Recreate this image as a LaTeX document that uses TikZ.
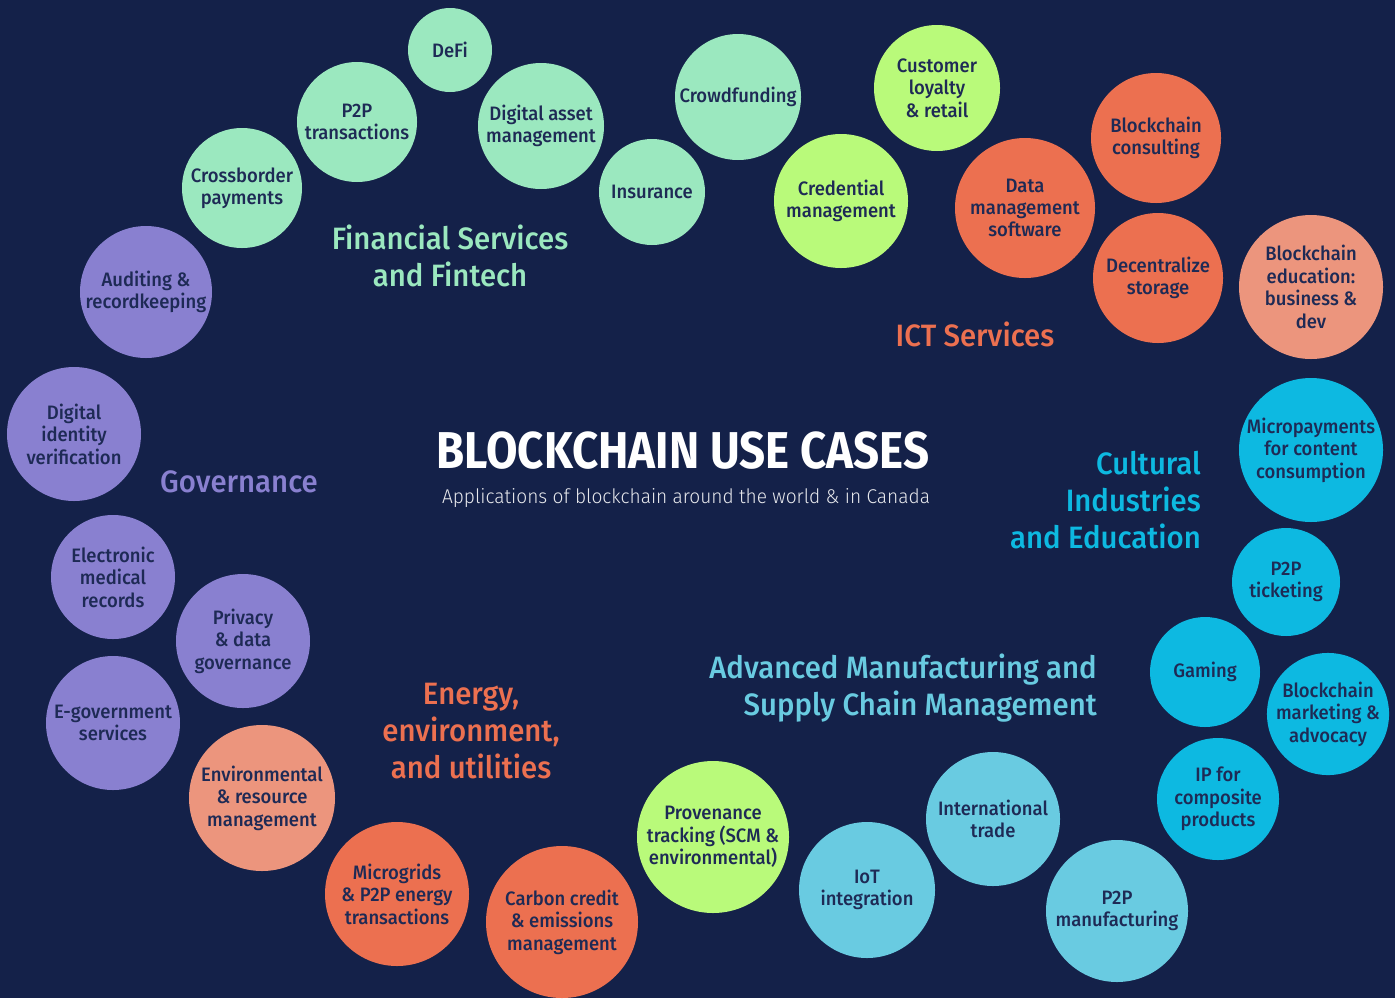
\documentclass[tikz,border=0pt]{standalone}
\usepackage{fontspec}
\setmainfont{Fira Sans}[FakeStretch=0.88]
\newfontfamily\lightfont{Fira Sans Light}[FakeStretch=0.96]
\newfontfamily\bubblefont{Fira Sans Medium}[FakeStretch=0.95]
\newfontfamily\catfont{Fira Sans Medium}[FakeStretch=0.95]
\definecolor{bgnavy}{HTML}{142149}
\definecolor{inknavy}{HTML}{1E2A55}
\definecolor{mint}{HTML}{9BE8BF}
\definecolor{lime}{HTML}{B9FA7A}
\definecolor{coral}{HTML}{EC7050}
\definecolor{salmon}{HTML}{EC957D}
\definecolor{lavender}{HTML}{8980D0}
\definecolor{cyanblue}{HTML}{0DB9E1}
\definecolor{skyblue}{HTML}{69CBE1}
\tikzset{
bubble/.style={circle, fill=#1, inner sep=0pt, align=center, text=inknavy,
  font=\fontsize{19.5}{22.5}\bubblefont},
catlabel/.style={text=#1, inner sep=0pt, font=\fontsize{31}{37.5}\catfont}
}

\begin{document}
\begin{tikzpicture}[x=1bp,y=-1bp]
  \fill[bgnavy] (0,0) rectangle (1395,998);
  \useasboundingbox (0,0) rectangle (1395,998);
  % financial services
  \node[bubble=mint, minimum size=84bp] (defi) at (450,50) {DeFi};
  \node[bubble=mint, minimum size=120bp] (ptwop) at (357,122) {P2P\\transactions};
  \node[bubble=mint, minimum size=120bp] (cross) at (242,188) {Crossborder\\payments};
  \node[bubble=mint, minimum size=126bp] (asset) at (541,126) {Digital asset\\management};
  \node[bubble=mint, minimum size=106bp] (insur) at (652,192) {Insurance};
  \node[bubble=mint, minimum size=126bp] (crowd) at (738,97) {Crowdfunding};
  \node[catlabel=mint, align=center] (fin) at (450,256) {Financial Services\\and Fintech};
  % ict services
  \node[bubble=lime, minimum size=126bp] (loyal) at (937,88) {Customer\\loyalty\\\& retail};
  \node[bubble=lime, minimum size=134bp] (cred) at (841,201) {Credential\\management};
  \node[bubble=coral, minimum size=140bp] (datam) at (1025,208) {Data\\management\\software};
  \node[bubble=coral, minimum size=130bp] (consult) at (1156,138) {Blockchain\\consulting};
  \node[bubble=coral, minimum size=130bp] (store) at (1158,278) {Decentralize\\storage};
  \node[bubble=salmon, minimum size=144bp] (educ) at (1311,287) {Blockchain\\education:\\business \&\\dev};
  \node[catlabel=coral] (ict) at (975,334) {ICT Services};
  % governance
  \node[bubble=lavender, minimum size=132bp] (audit) at (146,292) {Auditing \&\\recordkeeping};
  \node[bubble=lavender, minimum size=134bp] (ident) at (74,434) {Digital\\identity\\verification};
  \node[bubble=lavender, minimum size=124bp] (medic) at (113,577) {Electronic\\medical\\records};
  \node[bubble=lavender, minimum size=134bp] (priv) at (243,641) {Privacy\\\& data\\governance};
  \node[bubble=lavender, minimum size=134bp] (egov) at (113,723) {E-government\\services};
  \node[catlabel=lavender] (gov) at (239,482) {Governance};
  % energy
  \node[bubble=salmon, minimum size=146bp] (envir) at (262,798) {Environmental\\\& resource\\management};
  \node[bubble=coral, minimum size=144bp] (micro) at (397,894) {Microgrids\\\& P2P energy\\transactions};
  \node[bubble=coral, minimum size=152bp] (carbon) at (562,922) {Carbon credit\\\& emissions\\management};
  \node[catlabel=coral, align=center] (energy) at (471,731) {Energy,\\environment,\\and utilities};
  % manufacturing
  \node[bubble=lime, minimum size=152bp] (prov) at (713,837) {Provenance\\tracking (SCM \&\\environmental)};
  \node[bubble=skyblue, minimum size=136bp] (iot) at (867,890) {IoT\\integration};
  \node[bubble=skyblue, minimum size=134bp] (trade) at (993,819) {International\\trade};
  \node[bubble=skyblue, minimum size=142bp] (manuf) at (1117,911) {P2P\\manufacturing};
  \node[catlabel=skyblue, align=right, anchor=east] (adv) at (1097,688) {Advanced Manufacturing and\\Supply Chain Management};
  % cultural
  \node[bubble=cyanblue, minimum size=144bp] (micpay) at (1311,450) {Micropayments\\for content\\consumption};
  \node[bubble=cyanblue, minimum size=108bp] (ticket) at (1286,582) {P2P\\ticketing};
  \node[bubble=cyanblue, minimum size=110bp] (game) at (1205,672) {Gaming};
  \node[bubble=cyanblue, minimum size=122bp] (market) at (1328,714) {Blockchain\\marketing \&\\advocacy};
  \node[bubble=cyanblue, minimum size=122bp] (ipcomp) at (1218,799) {IP for\\composite\\products};
  \node[catlabel=cyanblue, align=right, anchor=east] (cult) at (1201,500) {Cultural\\Industries\\and Education};
  % title
  \node[text=white, inner sep=0pt, font=\fontsize{52}{60}\selectfont\bfseries] (title) at (683,451) {BLOCKCHAIN USE CASES};
  \node[text=white!90!bgnavy, inner sep=0pt, font=\fontsize{20}{24}\lightfont] (sub) at (686,498) {Applications of blockchain around the world \& in Canada};
\end{tikzpicture}
\end{document}
